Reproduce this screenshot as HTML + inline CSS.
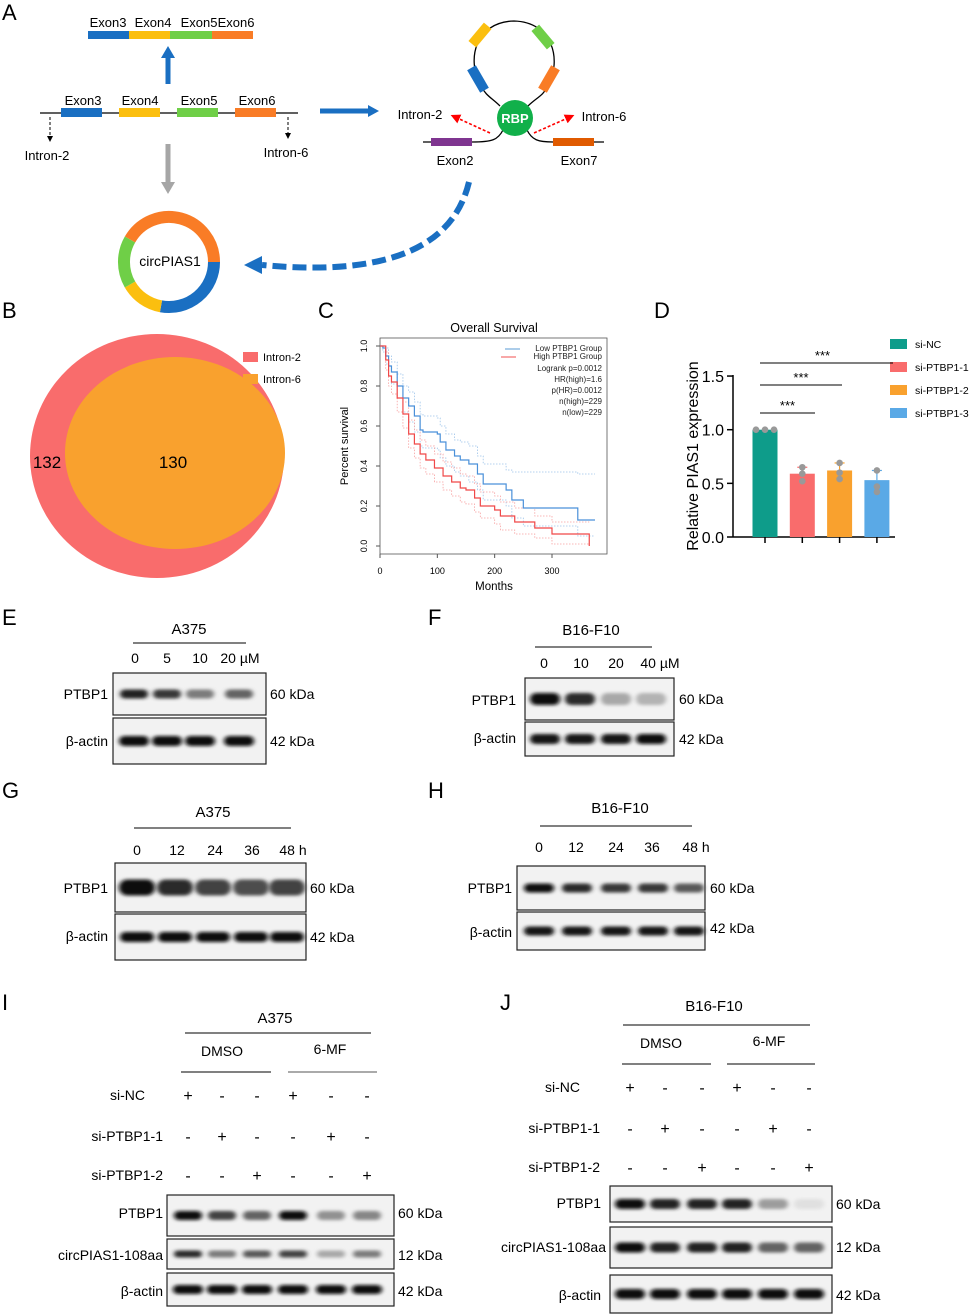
<!DOCTYPE html>
<html><head><meta charset="utf-8">
<style>
html,body{margin:0;padding:0;background:#fff}
svg{display:block;font-family:"Liberation Sans",Arial,sans-serif}
</style></head>
<body>
<svg id="fig" width="976" height="1315" viewBox="0 0 976 1315" xmlns="http://www.w3.org/2000/svg">
<defs>
<filter id="blur" x="-30%" y="-80%" width="160%" height="260%"><feGaussianBlur stdDeviation="2.4 1.6"/></filter>
<marker id="ahB" markerWidth="6" markerHeight="6" refX="3" refY="3" orient="auto"><path d="M0,0 L6,3 L0,6 z" fill="#000"/></marker>
<marker id="ahR" markerWidth="6" markerHeight="6" refX="3" refY="3" orient="auto"><path d="M0,0 L6,3 L0,6 z" fill="#f00"/></marker>
</defs>

<!-- PANEL A -->
<g>
<text x="2" y="20" font-size="22">A</text>
<g font-size="13" text-anchor="middle">
<text x="108" y="27">Exon3</text><text x="153" y="27">Exon4</text><text x="199" y="27">Exon5</text><text x="236" y="27">Exon6</text>
</g>
<g>
<rect x="88" y="31" width="41" height="8" fill="#1a6fc2"/><rect x="129" y="31" width="41" height="8" fill="#fbbf0f"/>
<rect x="170" y="31" width="42" height="8" fill="#6fcf47"/><rect x="212" y="31" width="41" height="8" fill="#f97c26"/>
</g>
<path d="M168,84 V56" stroke="#1a6fc2" stroke-width="5"/><path d="M161,58 L168,46 L175,58 z" fill="#1a6fc2"/>
<line x1="40" y1="113" x2="298" y2="113" stroke="#000" stroke-width="1.3"/>
<rect x="61" y="108" width="41" height="9" fill="#1a6fc2"/><rect x="119" y="108" width="41" height="9" fill="#fbbf0f"/>
<rect x="177" y="108" width="41" height="9" fill="#6fcf47"/><rect x="235" y="108" width="41" height="9" fill="#f97c26"/>
<g font-size="13" text-anchor="middle">
<text x="83" y="105">Exon3</text><text x="140" y="105">Exon4</text><text x="199" y="105">Exon5</text><text x="257" y="105">Exon6</text>
<text x="47" y="160">Intron-2</text><text x="286" y="157">Intron-6</text>
</g>
<line x1="50" y1="117" x2="50" y2="139" stroke="#000" stroke-dasharray="3,2" marker-end="url(#ahB)"/>
<line x1="288" y1="117" x2="288" y2="136" stroke="#000" stroke-dasharray="3,2" marker-end="url(#ahB)"/>
<path d="M168,144 V184" stroke="#a6a6a6" stroke-width="5"/><path d="M161,182 L168,194 L175,182 z" fill="#a6a6a6"/>
<!-- ring center (169,262) r45 -->
<g fill="none" stroke-width="12">
<path d="M130,239.5 A45,45 0 0 1 214,262" stroke="#f97c26"/>
<path d="M214,262 A45,45 0 0 1 161,306.3" stroke="#1a6fc2"/>
<path d="M161,306.3 A45,45 0 0 1 130,284.5" stroke="#fbbf0f"/>
<path d="M130,284.5 A45,45 0 0 1 130,239.5" stroke="#6fcf47"/>
</g>
<text x="170" y="266" font-size="14" text-anchor="middle">circPIAS1</text>
<path d="M320,111 H370" stroke="#1a6fc2" stroke-width="5"/><path d="M368,105 L379,111 L368,117 z" fill="#1a6fc2"/>
<!-- loop -->
<g>
<path d="M500,106 C492,98 486,96 481,86 C466,60 475,22 514,21 C553,22 562,60 548,86 C543,96 536,98 528,106" fill="none" stroke="#000" stroke-width="1.3"/>
<rect x="473" y="66" width="10" height="26" fill="#1a6fc2" transform="rotate(-30 478 79)"/>
<rect x="475" y="23" width="10" height="24" fill="#fbbf0f" transform="rotate(40 480 35)"/>
<rect x="538" y="25" width="10" height="24" fill="#6fcf47" transform="rotate(-40 543 37)"/>
<rect x="544" y="66" width="10" height="26" fill="#f97c26" transform="rotate(30 549 79)"/>
<path d="M423,142 H472 C492,142 498,140 503,130" fill="none" stroke="#000" stroke-width="1.3"/>
<path d="M527,130 C532,140 538,142 553,142 H604" fill="none" stroke="#000" stroke-width="1.3"/>
<rect x="431" y="138" width="41" height="8" fill="#7f3590"/>
<rect x="553" y="138" width="41" height="8" fill="#e05a00"/>
<circle cx="515" cy="118" r="18" fill="#11b04a"/>
<text x="515" y="123" font-size="13" font-weight="bold" fill="#fff" text-anchor="middle">RBP</text>
<line x1="490" y1="133" x2="455" y2="117" stroke="#f00" stroke-width="1.6" stroke-dasharray="3,2" marker-end="url(#ahR)"/>
<line x1="534" y1="133" x2="570" y2="117" stroke="#f00" stroke-width="1.6" stroke-dasharray="3,2" marker-end="url(#ahR)"/>
<g font-size="13" text-anchor="middle">
<text x="420" y="119">Intron-2</text><text x="604" y="121">Intron-6</text>
<text x="455" y="165">Exon2</text><text x="579" y="165">Exon7</text>
</g>
</g>
<path d="M469,182 C455,240 400,278 262,265" fill="none" stroke="#1a6fc2" stroke-width="6" stroke-dasharray="14,6"/>
<path d="M262,256 L244,265 L262,274 z" fill="#1a6fc2"/>
</g>

<!-- PANEL B -->
<g>
<text x="2" y="318" font-size="22">B</text>
<ellipse cx="157" cy="456" rx="127" ry="122" fill="#f96c6c"/>
<ellipse cx="175" cy="453" rx="110" ry="96" fill="#f9a12e"/>
<text x="47" y="468" font-size="17" text-anchor="middle">132</text>
<text x="173" y="468" font-size="17" text-anchor="middle">130</text>
<rect x="243" y="352" width="15" height="10" fill="#f96c6c"/><text x="263" y="361" font-size="11">Intron-2</text>
<rect x="243" y="374" width="15" height="10" fill="#f9a12e"/><text x="263" y="383" font-size="11">Intron-6</text>
</g>

<!-- PANEL C -->
<g id="panelC">
<text x="318" y="318" font-size="22">C</text>
<text x="494" y="332" font-size="12.5" text-anchor="middle">Overall Survival</text>
<rect x="380" y="338" width="227" height="216" fill="none" stroke="#555" stroke-width="0.8"/>
<text transform="translate(348,446) rotate(-90)" font-size="11" text-anchor="middle">Percent survival</text>
<text x="494" y="590" font-size="11.5" text-anchor="middle">Months</text>
<g font-size="8" fill="#222">
<line x1="505" y1="349" x2="520" y2="349" stroke="#5a9bd5"/><text x="602" y="351" text-anchor="end">Low PTBP1 Group</text>
<line x1="501" y1="357" x2="516" y2="357" stroke="#f05050"/><text x="602" y="359" text-anchor="end">High PTBP1 Group</text>
<text x="602" y="371" text-anchor="end">Logrank p=0.0012</text>
<text x="602" y="382" text-anchor="end">HR(high)=1.6</text>
<text x="602" y="393" text-anchor="end">p(HR)=0.0012</text>
<text x="602" y="404" text-anchor="end">n(high)=229</text>
<text x="602" y="415" text-anchor="end">n(low)=229</text>
</g>
</g>

<!-- PANEL D -->
<g id="panelD">
<text x="654" y="318" font-size="22">D</text>
<text transform="translate(698,456) rotate(-90)" font-size="16" text-anchor="middle">Relative PIAS1 expression</text>
</g>

<g id="blots"></g>
</svg>

<script>
const NS="http://www.w3.org/2000/svg";
const fig=document.getElementById('fig');
function mk(tag,attrs,parent,txt){const e=document.createElementNS(NS,tag);for(const k in attrs)e.setAttribute(k,attrs[k]);if(txt!==undefined)e.textContent=txt;(parent||fig).appendChild(e);return e;}

// ---------- Panel C data ----------
const lowMonths=[0,5,10,15,20,30,40,50,60,70,75,100,105,115,130,140,155,170,180,220,230,250,345,375];
const lowSurv=[1,0.99,0.95,0.9,0.87,0.8,0.74,0.7,0.65,0.58,0.57,0.56,0.52,0.48,0.45,0.43,0.41,0.36,0.31,0.28,0.23,0.19,0.13,0.13];
const highMonths=[0,10,15,20,30,40,50,60,70,80,95,110,125,140,150,165,175,200,210,235,270,300,365];
const highSurv=[1,0.93,0.85,0.82,0.74,0.66,0.56,0.51,0.46,0.43,0.39,0.35,0.32,0.29,0.28,0.24,0.2,0.18,0.15,0.12,0.09,0.06,0.06];
const lowUpper=[1,1,0.99,0.95,0.92,0.86,0.8,0.77,0.72,0.66,0.65,0.64,0.6,0.56,0.53,0.52,0.5,0.45,0.41,0.38,0.37,0.37,0.36,0.36];
const lowLower=[1,0.97,0.91,0.85,0.81,0.74,0.67,0.62,0.57,0.5,0.49,0.48,0.44,0.4,0.37,0.35,0.32,0.28,0.23,0.2,0.14,0.1,0.05,0.05];
const highUpper=[1,0.97,0.9,0.87,0.8,0.72,0.63,0.58,0.53,0.5,0.46,0.42,0.39,0.36,0.35,0.31,0.27,0.25,0.22,0.19,0.15,0.12,0.12];
const highLower=[1,0.88,0.8,0.76,0.67,0.59,0.49,0.44,0.39,0.36,0.32,0.28,0.25,0.22,0.21,0.17,0.14,0.11,0.08,0.06,0.04,0.01,0.01];
const cXTicks=[0,100,200,300];
const cYTicks=[0,0.2,0.4,0.6,0.8,1.0];
const cx=m=>380+m*0.5733, cy=s=>546-s*200;
const pc=document.getElementById('panelC');
function stepPath(ms,ss){let d=`M${cx(ms[0])},${cy(ss[0])}`;for(let i=1;i<ms.length;i++){d+=` H${cx(ms[i])} V${cy(ss[i])}`;}return d;}
[[lowMonths,lowUpper,'#9cc3ea'],[lowMonths,lowLower,'#9cc3ea'],[highMonths,highUpper,'#f7a0a0'],[highMonths,highLower,'#f7a0a0']].forEach(([m,s,c],i)=>{
 const p=mk('path',{d:stepPath(m,s),fill:'none',stroke:c,'stroke-width':0.8,'stroke-dasharray':'1.5,1.5'},pc);
 
 
});
const lp=mk('path',{d:stepPath(lowMonths,lowSurv),fill:'none',stroke:'#4a90d9','stroke-width':1.2},pc);


const hp=mk('path',{d:stepPath(highMonths,highSurv)+` V${cy(0)}`,fill:'none',stroke:'#f04848','stroke-width':1.2},pc);


cXTicks.forEach(t=>{mk('line',{x1:cx(t),x2:cx(t),y1:554,y2:558,stroke:'#555'},pc);
 const tx=mk('text',{x:cx(t),y:574,'font-size':9,'text-anchor':'middle'},pc,String(t));
 
 });
cYTicks.forEach(t=>{mk('line',{x1:376,x2:380,y1:cy(t),y2:cy(t),stroke:'#555'},pc);
 const tx=mk('text',{transform:`translate(367,${cy(t)}) rotate(-90)`,'font-size':9,'text-anchor':'middle'},pc,t.toFixed(1));
 
 });

// ---------- Panel D data ----------
const dGroups=['si-NC','si-PTBP1-1','si-PTBP1-2','si-PTBP1-3'];
const dMeans=[1.0,0.59,0.62,0.53];
const dPoints=[[1,1,1],[0.65,0.59,0.52],[0.69,0.60,0.54],[0.62,0.47,0.42]];
const dErr=[0,0.06,0.07,0.09];
const dYTicks=[0,0.5,1.0,1.5];
const dColors=['#0e9c8a','#f96c6c','#f9a12e','#5aa9e6'];
const pd=document.getElementById('panelD');
const dy=v=>537-v*107.3, dx=i=>765+i*37.3;
mk('line',{x1:733,x2:733,y1:dy(1.5)-1,y2:537,stroke:'#000','stroke-width':1.5},pd);
mk('line',{x1:733,x2:895,y1:537,y2:537,stroke:'#000','stroke-width':1.5},pd);
dYTicks.forEach(t=>{mk('line',{x1:727,x2:733,y1:dy(t),y2:dy(t),stroke:'#000','stroke-width':1.5},pd);
 const tx=mk('text',{x:724,y:dy(t)+6,'font-size':16,'text-anchor':'end'},pd,t.toFixed(1));
 
 });
dGroups.forEach((g,i)=>{
 const x=dx(i);
 mk('line',{x1:x,x2:x,y1:537,y2:543,stroke:'#000','stroke-width':1.5},pd);
 const r=mk('rect',{x:x-12.5,y:dy(dMeans[i]),width:25,height:537-dy(dMeans[i]),fill:dColors[i]},pd);
 
 
 if(dErr[i]>0){mk('line',{x1:x,x2:x,y1:dy(dMeans[i]+dErr[i]),y2:dy(dMeans[i]),stroke:dColors[i],'stroke-width':1.2},pd);
  mk('line',{x1:x-5,x2:x+5,y1:dy(dMeans[i]+dErr[i]),y2:dy(dMeans[i]+dErr[i]),stroke:dColors[i],'stroke-width':1.2},pd);}
 dPoints[i].forEach((v,j)=>{const off=dErr[i]===0?(j-1)*9:0;
  const c=mk('circle',{cx:x+off,cy:dy(v),r:3.3,fill:'#999'},pd);
  
  });
 const ly=344+i*23;
 const lr=mk('rect',{x:890,y:ly-5,width:17,height:10,fill:dColors[i]},pd);
 
 
 const lt=mk('text',{x:915,y:ly+4,'font-size':10.5},pd,g);
 
 
});
[[413,815],[385,842],[363,893]].forEach(([y,x2])=>{mk('line',{x1:760,x2:x2,y1:y,y2:y,stroke:'#000'},pd);
 mk('text',{x:(760+Math.min(x2,885))/2,y:y-3,'font-size':13,'text-anchor':'middle'},pd,'***');});

// ---------- Blots ----------
const bl=document.getElementById('blots');
function txt(x,y,s,size,anchor,name){const t=mk('text',{x:x,y:y,'font-size':size||14,'text-anchor':anchor||'start'},bl,s);
 
 return t;}
function blot(x,y,w,h,lanes,intens,bw,bh,name){
 const g=mk('g',{},bl);
 
 
 mk('rect',{x:x,y:y,width:w,height:h,fill:'#f2f2f2',stroke:'#222','stroke-width':1.2},g);
 lanes.forEach((lx,i)=>{const v=intens[i];const c=Math.round(235-v*225);
  mk('rect',{x:lx-bw/2,y:y+h/2-bh/2,width:bw,height:bh,rx:bh/2,fill:`rgb(${c},${c},${c})`,filter:'url(#blur)'},g);});
}
// E
txt(2,625,'E',22);
txt(189,634,'A375',15,'middle');mk('line',{x1:133,x2:246,y1:643,y2:643,stroke:'#000'},bl);
[[135,'0'],[167,'5'],[200,'10'],[240,'20 µM']].forEach(([x,s])=>txt(x,663,s,14,'middle','lane-label'));
blot(113,673,153,42,[134,167,200,239],[0.9,0.8,0.5,0.6],28,9,'blot-e-ptbp1');
blot(113,718,153,46,[134,167,200,239],[1,1,1,1],30,10,'blot-e-actin');
txt(108,699,'PTBP1',14,'end');txt(108,746,'β-actin',14,'end');txt(270,699,'60 kDa',14);txt(270,746,'42 kDa',14);
// F
txt(428,625,'F',22);
txt(591,635,'B16-F10',15,'middle');mk('line',{x1:535,x2:652,y1:647,y2:647,stroke:'#000'},bl);
[[544,'0'],[581,'10'],[616,'20'],[660,'40 µM']].forEach(([x,s])=>txt(x,668,s,14,'middle','lane-label'));
blot(525,678,149,42,[545,580,616,651],[1,0.85,0.3,0.25],30,12,'blot-f-ptbp1');
blot(525,722,149,34,[545,580,616,651],[0.95,0.95,0.95,1],30,10,'blot-f-actin');
txt(516,705,'PTBP1',14,'end');txt(516,743,'β-actin',14,'end');txt(679,704,'60 kDa',14);txt(679,744,'42 kDa',14);
// G
txt(2,798,'G',22);
txt(213,817,'A375',15,'middle');mk('line',{x1:134,x2:291,y1:828,y2:828,stroke:'#000'},bl);
[[137,'0'],[177,'12'],[215,'24'],[252,'36'],[293,'48 h']].forEach(([x,s])=>txt(x,855,s,14,'middle','lane-label'));
blot(115,863,191,49,[137,175,213,251,287],[1,0.85,0.75,0.7,0.75],36,16,'blot-g-ptbp1');
blot(115,914,191,46,[137,175,213,251,287],[1,1,1,1,1],34,10,'blot-g-actin');
txt(108,893,'PTBP1',14,'end');txt(108,941,'β-actin',14,'end');txt(310,893,'60 kDa',14);txt(310,942,'42 kDa',14);
// H
txt(428,798,'H',22);
txt(620,813,'B16-F10',15,'middle');mk('line',{x1:540,x2:692,y1:826,y2:826,stroke:'#000'},bl);
[[539,'0'],[576,'12'],[616,'24'],[652,'36'],[696,'48 h']].forEach(([x,s])=>txt(x,852,s,14,'middle','lane-label'));
blot(517,866,188,44,[539,577,616,653,689],[1,0.85,0.8,0.8,0.65],30,9,'blot-h-ptbp1');
blot(517,912,188,38,[539,577,616,653,689],[0.95,0.95,0.95,0.95,0.95],30,9,'blot-h-actin');
txt(512,893,'PTBP1',14,'end');txt(512,937,'β-actin',14,'end');txt(710,893,'60 kDa',14);txt(710,933,'42 kDa',14);
// I
const iLanes=[188,222,257,293,331,367];
const iNC=['+','-','-','+','-','-'], iP1=['-','+','-','-','+','-'], iP2=['-','-','+','-','-','+'];
txt(2,1010,'I',22);
txt(275,1023,'A375',15,'middle');mk('line',{x1:185,x2:371,y1:1033,y2:1033,stroke:'#000'},bl);
txt(222,1056,'DMSO',14,'middle');mk('line',{x1:181,x2:271,y1:1072,y2:1072,stroke:'#000'},bl);
txt(330,1054,'6-MF',14,'middle');mk('line',{x1:288,x2:377,y1:1072,y2:1072,stroke:'#555'},bl);
txt(145,1100,'si-NC',14,'end');txt(163,1141,'si-PTBP1-1',14,'end');txt(163,1180,'si-PTBP1-2',14,'end');
iLanes.forEach((x,i)=>{txt(x,1101,iNC[i],16,'middle','sign');txt(x,1142,iP1[i],16,'middle','sign');txt(x,1181,iP2[i],16,'middle','sign');});
blot(167,1195,227,41,iLanes,[1,0.75,0.6,1,0.4,0.45],28,9,'blot-i-ptbp1');
blot(167,1239,227,30,iLanes,[0.85,0.5,0.65,0.75,0.3,0.5],28,7,'blot-i-circpias1');
blot(167,1273,227,33,iLanes,[1,1,1,1,1,1],30,9,'blot-i-actin');
txt(163,1218,'PTBP1',14,'end');txt(163,1260,'circPIAS1-108aa',14,'end');txt(163,1296,'β-actin',14,'end');
txt(398,1218,'60 kDa',14);txt(398,1260,'12 kDa',14);txt(398,1296,'42 kDa',14);
// J
const jLanes=[630,665,702,737,773,809];
txt(500,1010,'J',22);
txt(714,1011,'B16-F10',15,'middle');mk('line',{x1:623,x2:810,y1:1025,y2:1025,stroke:'#000'},bl);
txt(661,1048,'DMSO',14,'middle');mk('line',{x1:622,x2:711,y1:1064,y2:1064,stroke:'#000'},bl);
txt(769,1046,'6-MF',14,'middle');mk('line',{x1:727,x2:815,y1:1064,y2:1064,stroke:'#000'},bl);
txt(580,1092,'si-NC',14,'end');txt(600,1133,'si-PTBP1-1',14,'end');txt(600,1172,'si-PTBP1-2',14,'end');
jLanes.forEach((x,i)=>{txt(x,1093,iNC[i],16,'middle','sign');txt(x,1134,iP1[i],16,'middle','sign');txt(x,1173,iP2[i],16,'middle','sign');});
blot(610,1186,222,36,jLanes,[1,0.9,0.9,0.9,0.35,0.05],30,10,'blot-j-ptbp1');
blot(610,1227,222,41,jLanes,[1,0.9,0.9,0.9,0.6,0.6],30,10,'blot-j-circpias1');
blot(610,1275,222,38,jLanes,[1,1,1,1,1,1],30,10,'blot-j-actin');
txt(601,1208,'PTBP1',14,'end');txt(606,1252,'circPIAS1-108aa',14,'end');txt(601,1300,'β-actin',14,'end');
txt(836,1209,'60 kDa',14);txt(836,1252,'12 kDa',14);txt(836,1300,'42 kDa',14);
</script>
</body></html>
